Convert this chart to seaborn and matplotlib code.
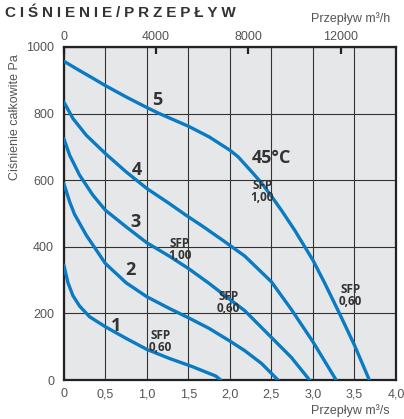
import numpy as np
import pandas as pd
import seaborn as sns
import matplotlib.pyplot as plt

# krzywe wentylatora: przeplyw m3/s, cisnienie Pa
q1 = [0, 0.05, 0.11, 0.19, 0.31, 0.5, 0.75, 1.0, 1.27, 1.55, 1.83, 1.89]
p1 = [345, 292, 253, 222, 190, 160, 125, 92, 65, 40, 12, 0]
q2 = [0, 0.07, 0.13, 0.27, 0.5, 0.75, 1.0, 1.27, 1.5, 1.75, 2.0, 2.18, 2.38, 2.58]
p2 = [590, 535, 497, 435, 350, 292, 250, 215, 187, 155, 117, 88, 50, 0]
q3 = [0, 0.07, 0.19, 0.35, 0.5, 0.75, 1.0, 1.27, 1.5, 1.75, 2.0, 2.18, 2.5, 2.74, 2.96]
p3 = [725, 675, 615, 555, 510, 460, 412, 372, 335, 290, 242, 208, 128, 68, 0]
q4 = [0, 0.11, 0.27, 0.5, 0.75, 1.0, 1.27, 1.47, 1.67, 1.94, 2.18, 2.5, 2.74, 3.0, 3.28]
p4 = [835, 785, 735, 680, 625, 575, 530, 495, 462, 415, 372, 295, 212, 115, 0]
q5 = [0, 0.19, 0.35, 0.5, 0.75, 1.0, 1.15, 1.5, 1.75, 2.0, 2.1, 2.26, 2.38, 2.5,
      2.62, 2.78, 3.0, 3.14, 3.32, 3.5, 3.68]
p5 = [957, 929, 906, 884, 850, 818, 800, 762, 730, 690, 670, 626, 592, 552,
      510, 450, 360, 292, 200, 105, 0]

nazwy = ["1", "2", "3", "4", "5"]
etykiety_x = [0.63, 0.8, 0.86, 0.88, 1.12]
etykiety_y = [162, 330, 475, 630, 840]

sfp_tekst = ["SFP\n1,00", "SFP\n1,00", "SFP\n0,60", "SFP\n0,60", "SFP\n0,60"]
sfp_x = [2.39, 1.4, 1.98, 3.45, 1.16]
sfp_y = [567, 392, 232, 255, 115]

xticks = [0, 0.5, 1.0, 1.5, 2.0, 2.5, 3.0, 3.5, 4.0]
yticks = [0, 200, 400, 600, 800, 1000]
top_ticks = [0, 4000, 8000, 12000]

niebieski = "#0a7bc3"
szary_txt = "#555555"

df = pd.concat([pd.DataFrame({"q": q, "p": p, "krzywa": n})
                for q, p, n in zip([q1, q2, q3, q4, q5], [p1, p2, p3, p4, p5], nazwy)])

sns.set_style("white")
plt.rcParams['font.family'] = ['Liberation Sans', 'DejaVu Sans']

fig = plt.figure(figsize=(4.04, 4.19), dpi=100)
ax = fig.add_axes([0.158, 0.093, 0.822, 0.795])
ax.set_facecolor("#e6e7e8")

sns.lineplot(data=df, x="q", y="p", hue="krzywa", palette=[niebieski] * 5,
             sort=False, legend=False, linewidth=2.4, ax=ax, zorder=3)
for l in ax.lines:
    l.set_solid_joinstyle("round")

ax.set_xlim(0, 4.0)
ax.set_ylim(0, 1000)
ax.set_xticks(xticks)
ax.set_xticklabels(["0" if v == 0 else f"{v:.1f}".replace(".", ",") for v in xticks])
ax.set_yticks(yticks)
ax.set_yticklabels([str(v) for v in yticks])
ax.grid(True, color="#333333", linewidth=0.8)
ax.set_axisbelow(True)
ax.tick_params(axis="both", length=0, labelsize=9, labelcolor=szary_txt)
ax.tick_params(axis="x", pad=6)
ax.tick_params(axis="y", pad=7)
for s in ax.spines.values():
    s.set_color("#222222")
    s.set_linewidth(1.6)
ax.set_xlabel("")
ax.set_ylabel("")

top = ax.secondary_xaxis("top", functions=(lambda x: x * 3600, lambda x: x / 3600))
top.set_xticks(top_ticks)
top.set_xticklabels([str(v) for v in top_ticks])
top.tick_params(direction="in", length=5, width=1.6, color="#222222",
                labelsize=9, labelcolor=szary_txt, pad=3)

for n, x, y in zip(nazwy, etykiety_x, etykiety_y):
    ax.text(x, y, n, fontsize=13, fontweight="bold", color="#333333",
            ha="center", va="center", family=["Open Sans", "DejaVu Sans"], zorder=4)
ax.text(2.5, 667, "45°C", fontsize=13, fontweight="bold", color="#333333",
        ha="center", va="center", family=["Open Sans", "DejaVu Sans"], zorder=4)
for t, x, y in zip(sfp_tekst, sfp_x, sfp_y):
    ax.text(x, y, t, fontsize=8.5, fontweight="bold", color="#333333",
            ha="center", va="center", linespacing=0.9,
            family=["Open Sans", "DejaVu Sans"], zorder=4)

fig.text(0.012, 0.97, "\u2005".join("CIŚNIENIE/PRZEPŁYW"), fontsize=11,
         fontweight="bold", color="#333333", ha="left", va="center")
fig.text(0.965, 0.955, "Przepływ m³/h", fontsize=9, color=szary_txt,
         ha="right", va="center")
fig.text(0.965, 0.02, "Przepływ m³/s", fontsize=9, color=szary_txt,
         ha="right", va="center")
fig.text(0.037, 0.72, "Ciśnienie całkowite Pa", fontsize=9, color=szary_txt,
         rotation=90, ha="center", va="center")

fig.savefig("out.png", dpi=100)
